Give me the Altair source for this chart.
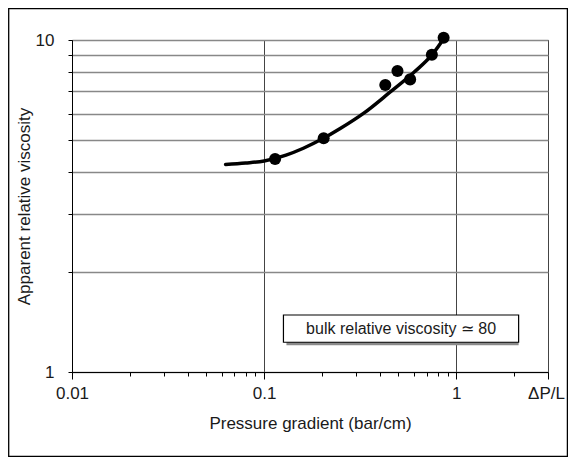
import altair as alt
import pandas as pd

# measured points (pressure gradient bar/cm, apparent relative viscosity)
pg_x = [0.114, 0.204, 0.427, 0.494, 0.575, 0.746, 0.859]
visc_y = [4.38, 5.06, 7.32, 8.07, 7.61, 9.03, 10.16]

# smooth trend curve
fit_x = [0.063, 0.08, 0.1, 0.13, 0.16, 0.2, 0.25, 0.33, 0.45, 0.6, 0.75, 0.87]
fit_y = [4.22, 4.26, 4.32, 4.5, 4.72, 5.03, 5.42, 6.02, 6.95, 7.98, 9.05, 10.2]

# axis ticks
x_major = [0.01, 0.1, 1, 3]
x_minor = [0.02, 0.03, 0.04, 0.05, 0.06, 0.07, 0.08, 0.09,
           0.2, 0.3, 0.4, 0.5, 0.6, 0.7, 0.8, 0.9, 2]
y_ticks = [1, 2, 3, 4, 5, 6, 7, 8, 9, 10]
x_end_label = "ΔP/L"

# annotation box
box_x = [0.126]
box_x2 = [2.11]
box_y = [1.229]
box_y2 = [1.485]
note_x = [0.516]
note_y = [1.35]
note_text = ["bulk relative viscosity ≃ 80"]

FONT = "Liberation Sans"
TXT = "#1a1a1a"

pts = pd.DataFrame({"x": pg_x, "y": visc_y})
fit = pd.DataFrame({"x": fit_x, "y": fit_y})
box = pd.DataFrame({"x": box_x, "x2": box_x2, "y": box_y, "y2": box_y2})
note = pd.DataFrame({"x": note_x, "y": note_y, "t": note_text})

major_test = "indexof([0.01, 0.1, 1, 3], datum.value) >= 0"

xscale = alt.Scale(type="log", domain=[0.01, 3], nice=False)
yscale = alt.Scale(type="log", domain=[1, 10], nice=False)

xaxis = alt.Axis(
    values=x_major + x_minor,
    format="~g",
    labelExpr="datum.value == 3 ? '" + x_end_label + "' : (indexof([0.01, 0.1, 1], datum.value) >= 0 ? datum.label : '')",
    labelOverlap=False,
    labelFlush=False,
    labelOffset={"condition": {"test": "datum.value == 3", "value": -2}, "value": 0},
    title="Pressure gradient (bar/cm)",
    tickSize={"condition": {"test": major_test, "value": 7}, "value": 4},
    gridOpacity={"condition": {"test": major_test, "value": 1}, "value": 0},
    gridColor="#444",
    gridWidth=1,
    labelPadding=6,
    titlePadding=14,
)
yaxis = alt.Axis(
    values=y_ticks,
    format="~g",
    labelExpr="datum.value == 1 || datum.value == 10 ? datum.label : ''",
    labelOverlap=False,
    labelFlush=False,
    title="Apparent relative viscosity",
    tickSize=4,
    gridColor="#888",
    gridWidth=1.5,
    labelPadding=14,
    titlePadding=2,
)

base_x = alt.X("x:Q", scale=xscale, axis=xaxis)
base_y = alt.Y("y:Q", scale=yscale, axis=yaxis)

frame = alt.Chart(pd.DataFrame({"a": [0]})).mark_rect(
    filled=False, stroke="black", strokeWidth=1.3
).encode(
    x=alt.value(-63.3), x2=alt.value(495.4),
    y=alt.value(-31.3), y2=alt.value(416.5),
)

curve = alt.Chart(fit).mark_line(
    color="black", strokeWidth=3.5, interpolate="monotone", strokeCap="round"
).encode(x=base_x, y=base_y)

dots = alt.Chart(pts).mark_circle(size=145, color="black", opacity=1).encode(
    x=alt.X("x:Q", scale=xscale), y=alt.Y("y:Q", scale=yscale)
)

shadow = alt.Chart(box).mark_rect(fill="#8a8a8a", xOffset=3, yOffset=3).encode(
    x=alt.X("x:Q", scale=xscale), x2="x2:Q",
    y=alt.Y("y:Q", scale=yscale), y2="y2:Q",
)
boxrect = alt.Chart(box).mark_rect(fill="white", stroke="black", strokeWidth=1.2).encode(
    x=alt.X("x:Q", scale=xscale), x2="x2:Q",
    y=alt.Y("y:Q", scale=yscale), y2="y2:Q",
)
label = alt.Chart(note).mark_text(
    font=FONT, fontSize=16, color=TXT, align="center", baseline="middle"
).encode(
    x=alt.X("x:Q", scale=xscale), y=alt.Y("y:Q", scale=yscale), text="t:N"
)

chart = alt.layer(curve, dots, shadow, boxrect, label, frame).properties(
    width=476,
    height=332,
    autosize=alt.AutoSizeParams(type="none"),
    padding={"left": 64, "top": 32, "right": 20, "bottom": 85},
).configure_view(
    stroke="black", strokeWidth=1
).configure_axis(
    labelFont=FONT, titleFont=FONT, labelFontSize=17, titleFontSize=17,
    labelColor=TXT, titleColor=TXT, titleFontWeight="normal",
    domainColor="black", tickColor="black", domainWidth=1, tickWidth=1,
)

chart.save("out.html", embed_options={"renderer": "svg", "actions": False})
